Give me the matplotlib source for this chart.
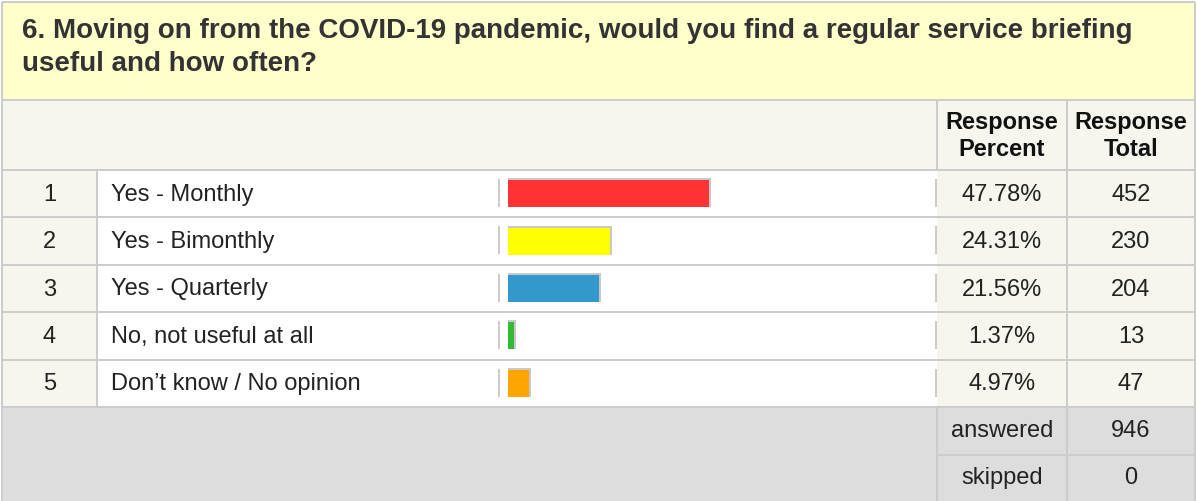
import matplotlib
matplotlib.use("Agg")
import matplotlib.pyplot as plt
from matplotlib.patches import Rectangle

plt.rcParams['font.family'] = ['Liberation Sans', 'DejaVu Sans']

# data
question = ["6. Moving on from the COVID-19 pandemic, would you find a regular service briefing",
            "useful and how often?"]
row_numbers = [1, 2, 3, 4, 5]
categories = ["Yes - Monthly", "Yes - Bimonthly", "Yes - Quarterly",
              "No, not useful at all", "Don\u2019t know / No opinion"]
percents = [47.78, 24.31, 21.56, 1.37, 4.97]
totals = [452, 230, 204, 13, 47]
answered = 946
skipped = 0
bar_colors = ["#FF3333", "#FFFF00", "#3399CC", "#33BB33", "#FFA500"]

W, H = 1197, 501
fig = plt.figure(figsize=(W / 100, H / 100), dpi=100)
ax = fig.add_axes([0, 0, 1, 1])
ax.set_xlim(0, W)
ax.set_ylim(H, 0)
ax.axis('off')

line_c = "#CCCCCC"
beige = "#F6F6EE"
lw = 1.44

# column edges / row edges in pixels
x_left, x_num, x_pct, x_tot, x_right = 2, 97, 937, 1067, 1195
y_top, y_title, y_head = 2, 100, 170
row_h = (407 - 170) / len(categories)
row_edges = [y_head + i * row_h for i in range(len(categories) + 1)]
y_foot = row_edges[-1]
y_skip = y_foot + 48

def cell(x0, y0, x1, y1, color):
    ax.add_patch(Rectangle((x0, y0), x1 - x0, y1 - y0, facecolor=color, edgecolor='none', zorder=0))

# backgrounds
cell(x_left, y_top, x_right, y_title, "#FFFFCC")
cell(x_left, y_title, x_right, y_head, beige)
cell(x_left, y_head, x_num, y_foot, beige)
cell(x_num, y_head, x_pct, y_foot, "white")
cell(x_pct, y_head, x_right, y_foot, beige)
cell(x_left, y_foot, x_right, H, "#DDDDDD")

# grid lines
for y in [y_top, y_title, y_head] + row_edges[1:]:
    ax.hlines(y, x_left, x_right, color=line_c, lw=lw, zorder=1)
ax.hlines(y_skip, x_pct, x_right, color=line_c, lw=lw, zorder=1)
ax.vlines([x_left, x_right], y_top, H, color=line_c, lw=lw, zorder=1)
ax.vlines(x_num, y_head, y_foot, color=line_c, lw=lw, zorder=1)
ax.vlines([x_pct, x_tot], y_title, y_head, color=line_c, lw=lw, zorder=1)
ax.vlines([x_pct, x_tot], y_foot, H, color=line_c, lw=lw, zorder=1)
ax.vlines(x_tot, y_head, y_foot, color=line_c, lw=lw, zorder=1)
for y0 in row_edges[:-1]:
    ax.vlines([499, x_pct - 1], y0 + 9, y0 + 37, color=line_c, lw=lw, zorder=1)

# title
title_c = "#333333"
ax.text(22, 38, question[0], fontsize=20, fontweight='bold', color=title_c, va='baseline')
ax.text(22, 71, question[1], fontsize=20, fontweight='bold', color=title_c, va='baseline')

# header
x_pct_c = (x_pct + x_tot) / 2
x_tot_c = (x_tot + x_right) / 2
for xc, lab in [(x_pct_c, "Response\nPercent"), (x_tot_c, "Response\nTotal")]:
    ax.text(xc, 136, lab, fontsize=17, fontweight='bold', color="#111111",
            ha='center', va='center', linespacing=1.25)

# rows
txt_c = "#222222"
for i in range(len(categories)):
    yc = (row_edges[i] + row_edges[i + 1]) / 2 + 1
    ax.text((x_left + x_num) / 2, yc, str(row_numbers[i]), fontsize=17, color=txt_c, ha='center', va='center')
    ax.text(111, yc, categories[i], fontsize=17, color=txt_c, ha='left', va='center')
    ax.text(x_pct_c, yc, f"{percents[i]:.2f}%", fontsize=17, color=txt_c, ha='center', va='center')
    ax.text(x_tot_c, yc, str(totals[i]), fontsize=17, color=txt_c, ha='center', va='center')

# footer
for yc, lab, val in [((y_foot + y_skip) / 2, "answered", answered), ((y_skip + H) / 2, "skipped", skipped)]:
    ax.text(x_pct_c, yc, lab, fontsize=17, color=txt_c, ha='center', va='center')
    ax.text(x_tot_c, yc, str(val), fontsize=17, color=txt_c, ha='center', va='center')

# bars
bar_x0, bar_w = 508, 421          # pixels covering 0..100 %
bx = fig.add_axes([bar_x0 / W, (H - y_foot) / H, bar_w / W, (y_foot - y_head) / H])
bx.set_xlim(0, 100)
bx.set_ylim(len(categories) - 0.5, -0.5)
bx.axis('off')
bx.patch.set_alpha(0)
ypos = list(range(len(categories)))
bh = 27 / row_h
px_x = 100 / bar_w
px_y = 1 / row_h
bx.barh([y - px_y for y in ypos], [p + 2 * px_x for p in percents], height=bh + 2 * px_y,
        color="#C8C8C8", zorder=1)
bx.barh(ypos, percents, height=bh, color=bar_colors, zorder=2)

fig.savefig("out.png", dpi=100)
